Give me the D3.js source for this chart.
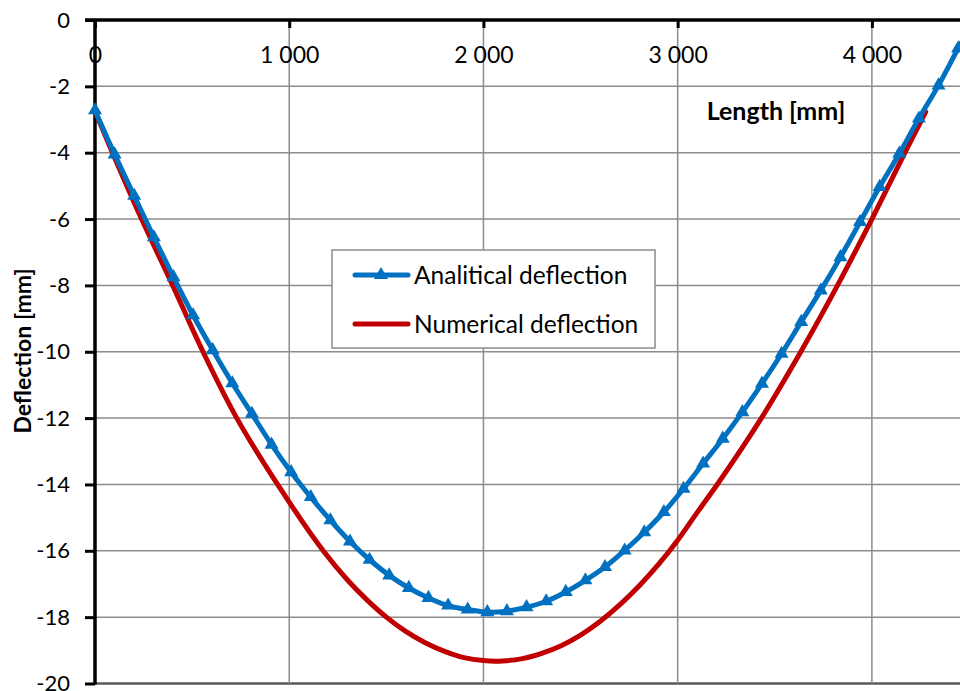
<!DOCTYPE html>
<html>
<head>
<meta charset="utf-8">
<script src="https://cdn.jsdelivr.net/npm/d3@7"></script>
<style>
  body { margin: 0; background: #fff; }
  svg { display: block; font-family: Lato, "Liberation Sans", sans-serif; }
</style>
</head>
<body>
<svg id="chart"></svg>
<script>
var WIDTH = 960;
var HEIGHT = 691;

// analytical deflection, one marker per station
var analyticX = [0, 101, 202, 303, 404, 505, 606, 707, 808, 909, 1010, 1111, 1212, 1313, 1414,
  1515, 1616, 1717, 1818, 1919, 2020, 2121, 2222, 2323, 2424, 2525, 2626, 2727, 2828, 2929,
  3030, 3131, 3232, 3333, 3434, 3535, 3636, 3737, 3838, 3939, 4040, 4141, 4242, 4343, 4444, 4545];
var analyticY = [-2.72, -4.05, -5.3, -6.55, -7.75, -8.9, -9.95, -10.95, -11.87, -12.8, -13.63,
  -14.38, -15.08, -15.72, -16.27, -16.74, -17.12, -17.42, -17.65, -17.77, -17.85, -17.82, -17.7,
  -17.52, -17.24, -16.89, -16.49, -15.99, -15.44, -14.83, -14.13, -13.37, -12.62, -11.82, -10.96,
  -10.06, -9.1, -8.15, -7.15, -6.09, -5.03, -4.03, -2.97, -1.97, -0.86, 0.2];

// numerical deflection (smooth curve)
var numericX = [0, 90, 240, 400, 556, 730, 940, 1175, 1300, 1400, 1500, 1600, 1700, 1800, 1900,
  2000, 2100, 2200, 2300, 2400, 2500, 2600, 2700, 2800, 2900, 3000, 3100, 3210, 3431, 3634, 3823,
  4000, 4170, 4277];
var numericY = [-2.75, -4, -6, -8, -10, -12, -14, -16, -16.88, -17.48, -18, -18.43, -18.77, -19.03,
  -19.22, -19.31, -19.32, -19.25, -19.09, -18.86, -18.54, -18.13, -17.64, -17.07, -16.42, -15.68, -14.85,
  -13.95, -12, -10, -8, -6, -4, -2.77];

var xTicks = [0, 1000, 2000, 3000, 4000];
var yTicks = [0, -2, -4, -6, -8, -10, -12, -14, -16, -18, -20];

var seriesNames = ['Analitical deflection', 'Numerical deflection'];
var BLUE = '#0070C0';
var RED = '#C00000';

var svg = d3.select('#chart')
  .attr('width', WIDTH)
  .attr('height', HEIGHT);

var xScale = d3.scaleLinear().domain([0, 4500]).range([95, 969]);
var yScale = d3.scaleLinear().domain([0, -20]).range([20, 683.5]);

var spaceFormat = d3.formatLocale({decimal: '.', thousands: ' ', grouping: [3], currency: ['', '']}).format(',');

// grid
svg.append('g')
  .selectAll('line.h')
  .data(yTicks.filter(function(d){ return d !== 0; }))
  .enter().append('line')
  .attr('x1', xScale(0)).attr('x2', WIDTH)
  .attr('y1', function(d){ return yScale(d); })
  .attr('y2', function(d){ return yScale(d); })
  .attr('stroke', function(d){ return d === -20 ? '#5a5a5a' : '#8c8c8c'; })
  .attr('stroke-width', function(d){ return d === -20 ? 2.5 : 1.5; });

svg.append('g')
  .selectAll('line.v')
  .data(xTicks.filter(function(d){ return d !== 0; }))
  .enter().append('line')
  .attr('x1', function(d){ return xScale(d); })
  .attr('x2', function(d){ return xScale(d); })
  .attr('y1', yScale(0)).attr('y2', yScale(-20))
  .attr('stroke', '#8c8c8c')
  .attr('stroke-width', 1.5);

// y axis on the left
var leftAxis = d3.axisLeft(yScale)
  .tickValues(yTicks)
  .tickSize(10)
  .tickPadding(15)
  .tickFormat(function(d){ return String(d); });
var yAxisG = svg.append('g')
  .attr('transform', 'translate(' + xScale(0) + ',0)')
  .call(leftAxis);
yAxisG.select('.domain').remove();
yAxisG.selectAll('line').attr('stroke', '#000').attr('stroke-width', 3);
yAxisG.selectAll('text').attr('font-size', 22).attr('fill', '#000').attr('font-family', 'Lato, sans-serif');

// x axis at the top, labels below
var topAxis = d3.axisBottom(xScale)
  .tickValues(xTicks)
  .tickSize(8)
  .tickPadding(19)
  .tickFormat(spaceFormat);
var xAxisG = svg.append('g')
  .attr('transform', 'translate(0,' + yScale(0) + ')')
  .call(topAxis);
xAxisG.select('.domain').remove();
xAxisG.selectAll('line').attr('stroke', '#000').attr('stroke-width', 3);
xAxisG.selectAll('text').attr('font-size', 23).attr('fill', '#000').attr('font-family', 'Lato, sans-serif');

// axis lines
svg.append('line')
  .attr('x1', xScale(0) - 10).attr('x2', WIDTH)
  .attr('y1', yScale(0)).attr('y2', yScale(0))
  .attr('stroke', '#000').attr('stroke-width', 3.5);
svg.append('line')
  .attr('x1', xScale(0)).attr('x2', xScale(0))
  .attr('y1', yScale(0)).attr('y2', yScale(-20) + 1)
  .attr('stroke', '#000').attr('stroke-width', 3.5);

// series
var numData = numericX.map(function(x, i){ return [x, numericY[i]]; });
var anaData = analyticX.map(function(x, i){ return [x, analyticY[i]]; });

var line = d3.line()
  .x(function(d){ return xScale(d[0]); })
  .y(function(d){ return yScale(d[1]); })
  .curve(d3.curveCatmullRom.alpha(0.5));

svg.append('path')
  .datum(numData)
  .attr('d', line)
  .attr('fill', 'none')
  .attr('stroke', RED)
  .attr('stroke-width', 5)
  .attr('stroke-linecap', 'round');

svg.append('path')
  .datum(anaData)
  .attr('d', line)
  .attr('fill', 'none')
  .attr('stroke', BLUE)
  .attr('stroke-width', 5)
  .attr('stroke-linecap', 'round');

var tri = d3.symbol().type(d3.symbolTriangle).size(85);
svg.append('g')
  .selectAll('path')
  .data(anaData)
  .enter().append('path')
  .attr('d', tri)
  .attr('transform', function(d){ return 'translate(' + xScale(d[0]) + ',' + yScale(d[1]) + ')'; })
  .attr('fill', BLUE);

// axis titles
svg.append('text')
  .attr('x', 776).attr('y', 120)
  .attr('text-anchor', 'middle')
  .attr('font-size', 25).attr('font-weight', 'bold')
  .text('Length [mm]');

svg.append('text')
  .attr('transform', 'translate(31,351) rotate(-90)')
  .attr('text-anchor', 'middle')
  .attr('font-size', 23).attr('font-weight', 'bold')
  .text('Deflection [mm]');

// legend
var legend = svg.append('g').attr('transform', 'translate(332,250)');
legend.append('rect')
  .attr('x', 0).attr('y', 0).attr('width', 323).attr('height', 98)
  .attr('fill', '#fff').attr('stroke', '#8c8c8c').attr('stroke-width', 1.5);

var rows = legend.selectAll('g.row')
  .data(seriesNames)
  .enter().append('g')
  .attr('transform', function(d, i){ return 'translate(0,' + (25 + i * 49) + ')'; });
rows.append('line')
  .attr('x1', 23).attr('x2', 76).attr('y1', 0).attr('y2', 0)
  .attr('stroke', function(d, i){ return i === 0 ? BLUE : RED; })
  .attr('stroke-width', 5).attr('stroke-linecap', 'round');
rows.filter(function(d, i){ return i === 0; })
  .append('path')
  .attr('d', tri)
  .attr('transform', 'translate(49,0)')
  .attr('fill', BLUE);
rows.append('text')
  .attr('x', 82).attr('y', 8.5)
  .attr('font-size', 24.5)
  .text(function(d){ return d; });
</script>
</body>
</html>
